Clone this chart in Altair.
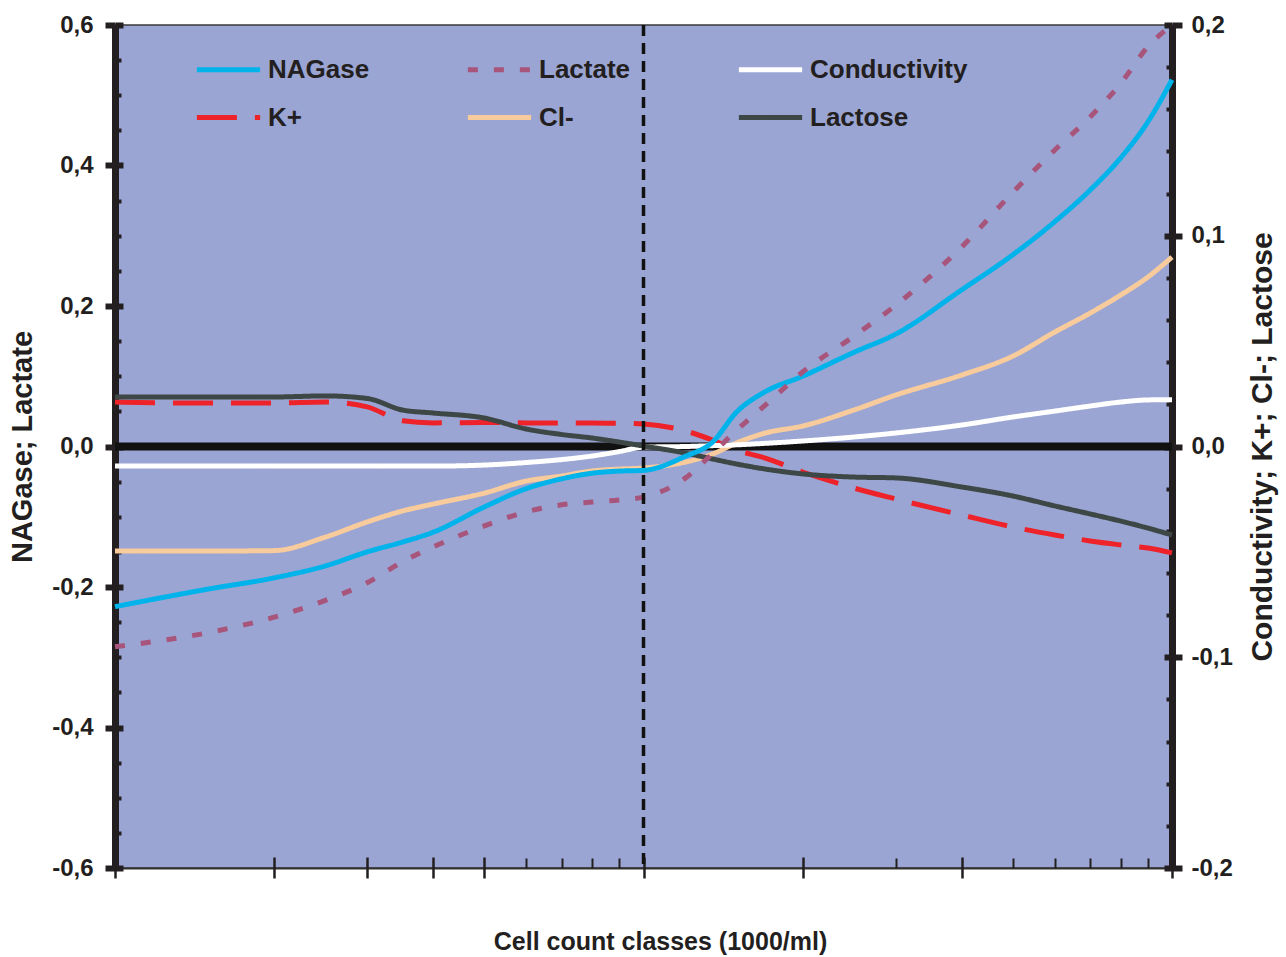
import altair as alt
import pandas as pd

# ---- data ----
cells = [10, 15, 20, 25, 30, 35, 40, 50, 60, 70, 80, 90, 100, 120, 135, 150, 170,
         200, 250, 300, 400, 500, 600, 700, 800, 900, 1000]

nagase = [-0.228, -0.203, -0.187, -0.170, -0.150, -0.136, -0.122, -0.086, -0.060, -0.046,
          -0.038, -0.035, -0.034, -0.014, 0.006, 0.049, 0.078, 0.100, 0.134, 0.160,
          0.223, 0.273, 0.320, 0.365, 0.411, 0.462, 0.522]
lactate = [-0.285, -0.265, -0.243, -0.219, -0.194, -0.164, -0.143, -0.113, -0.093, -0.083,
           -0.079, -0.076, -0.072, -0.045, -0.010, 0.023, 0.059, 0.106, 0.157, 0.201,
           0.284, 0.362, 0.422, 0.469, 0.517, 0.569, 0.600]
conductivity = [-0.0093, -0.0093, -0.0093, -0.0093, -0.0093, -0.0093, -0.0093, -0.0088,
                -0.0076, -0.0062, -0.0045, -0.0024, -0.0003, 0.0000, 0.0004, 0.0008, 0.0015,
                0.0026, 0.0045, 0.0064, 0.0102, 0.0140, 0.0168, 0.0192, 0.0211, 0.0221, 0.0222]
k_plus = [0.0211, 0.0206, 0.0206, 0.0211, 0.0188, 0.0122, 0.0112, 0.0114, 0.0112, 0.0112,
          0.0112, 0.0110, 0.0107, 0.0074, 0.0031, -0.0017, -0.0055, -0.0121, -0.0197,
          -0.0249, -0.0325, -0.0382, -0.0420, -0.0448, -0.0467, -0.0482, -0.0505]
cl_minus = [-0.0496, -0.0496, -0.0494, -0.0430, -0.0358, -0.0306, -0.0273, -0.0221, -0.0164,
            -0.0140, -0.0116, -0.0107, -0.0102, -0.0074, -0.0036, 0.0017, 0.0064, 0.0097,
            0.0173, 0.0244, 0.0339, 0.0429, 0.0543, 0.0633, 0.0719, 0.0804, 0.0899]
lactose = [0.0235, 0.0235, 0.0235, 0.0240, 0.0228, 0.0173, 0.0159, 0.0135, 0.0083, 0.0057,
           0.0040, 0.0021, 0.0002, -0.0031, -0.0059, -0.0083, -0.0107, -0.0130, -0.0145,
           -0.0149, -0.0192, -0.0235, -0.0282, -0.0320, -0.0354, -0.0387, -0.0420]

# legend fills column by column: (NAGase, K+), (Lactate, Cl-), (Conductivity, Lactose)
series_order = ["NAGase", "K+", "Lactate", "Cl-", "Conductivity", "Lactose"]
series_colors = ["#00B3EB", "#EE2229", "#A8557C", "#F7CB9C", "#FFFFFF", "#3D4745"]
series_dashes = [[1, 0], [40, 18], [10, 16], [1, 0], [1, 0], [1, 0]]
series_widths = [5, 5, 6, 5, 5, 5]

left_ticks = [-0.6, -0.4, -0.2, 0.0, 0.2, 0.4, 0.6]
left_minor = [round(-0.55 + 0.05 * i, 2) for i in range(23)]
right_ticks = [-0.2, -0.1, 0.0, 0.1, 0.2]
right_minor = [round(-0.18 + 0.02 * i, 2) for i in range(19)]
x_long_ticks = [10, 20, 30, 40, 50, 100, 200, 400, 1000]
x_short_ticks = [60, 70, 80, 90, 300, 500, 600, 700, 800, 900]

left_series = {"NAGase": nagase, "Lactate": lactate}
right_series = {"K+": k_plus, "Cl-": cl_minus, "Conductivity": conductivity, "Lactose": lactose}


def long_df(d):
    rows = []
    for name, vals in d.items():
        for c, v in zip(cells, vals):
            rows.append({"cells": c, "value": v, "series": name})
    return pd.DataFrame(rows)


left_df = long_df(left_series)
right_df = long_df(right_series)

INK = "#231F20"
FONT = "Liberation Sans"
W, H = 1057, 843

x_scale = alt.Scale(type="log", domain=[10, 1000], nice=False)
yl_scale = alt.Scale(domain=[-0.6, 0.6], nice=False, zero=False)
yr_scale = alt.Scale(domain=[-0.2, 0.2], nice=False, zero=False)
color_scale = alt.Scale(domain=series_order, range=series_colors)
dash_scale = alt.Scale(domain=series_order, range=series_dashes)
width_scale = alt.Scale(domain=series_order, range=series_widths)

label_expr = "(datum.value < 0 ? '-' : '') + replace(format(abs(datum.value), '.1f'), '.', ',')"

common_label = dict(labelFont=FONT, labelFontSize=24, labelFontWeight="bold", labelColor=INK)
common_title = dict(titleFont=FONT, titleFontWeight="bold", titleColor=INK)

ax_left = alt.Axis(orient="left", values=left_ticks, labelExpr=label_expr, labelPadding=12,
                   tickSize=10, tickWidth=6, tickColor=INK, domainColor=INK, domainWidth=7,
                   grid=False, title="NAGase; Lactate", titleFontSize=29, titleAngle=270,
                   titleX=-93, titleY=H / 2, titleAlign="center", titleBaseline="middle",
                   **common_label, **common_title)
ax_left_in = alt.Axis(orient="left", offset=-8, values=left_ticks, tickSize=8, tickWidth=6,
                      tickColor=INK, labels=False, domain=False, grid=False, title=None)
ax_left_minor = alt.Axis(orient="left", offset=-6, values=left_minor, tickSize=6, tickWidth=4,
                         tickColor=INK, labels=False, domain=False, grid=False, title=None)

ax_right = alt.Axis(orient="right", values=right_ticks, labelExpr=label_expr, labelPadding=9,
                    tickSize=10, tickWidth=6, tickColor=INK, domainColor=INK, domainWidth=7,
                    grid=False, title="Conductivity; K+; Cl-; Lactose", titleFontSize=30,
                    titleAngle=270, titleX=90, titleY=H / 2, titleAlign="center",
                    titleBaseline="middle", **common_label, **common_title)
ax_right_in = alt.Axis(orient="right", offset=-8, values=right_ticks, tickSize=8, tickWidth=6,
                       tickColor=INK, labels=False, domain=False, grid=False, title=None)
ax_right_minor = alt.Axis(orient="right", offset=-6, values=right_minor, tickSize=6, tickWidth=4,
                          tickColor=INK, labels=False, domain=False, grid=False, title=None)

ax_x_main = alt.Axis(orient="bottom", ticks=False, labels=False, domainColor="#333333",
                     domainWidth=2, grid=False, title="Cell count classes (1000/ml)",
                     titleFontSize=25, titleX=545, titleY=73, titleAlign="center",
                     titleBaseline="middle", **common_title)
ax_x_long = alt.Axis(orient="bottom", offset=-11, values=x_long_ticks, tickSize=21, tickWidth=2.5,
                     tickColor=INK, labels=False, domain=False, grid=False, title=None)
ax_x_short = alt.Axis(orient="bottom", offset=-10, values=x_short_ticks, tickSize=10, tickWidth=2,
                      tickColor=INK, labels=False, domain=False, grid=False, title=None)

leg = alt.Legend(orient="none", legendX=79, legendY=10, columns=3, title=None,
                 symbolType="stroke", symbolSize=4000, symbolStrokeWidth=7,
                 labelFont=FONT, labelFontSize=26, labelFontWeight="bold", labelColor=INK,
                 labelOffset=5, labelLimit=400, rowPadding=-13, columnPadding=31,
                 gridAlign="all", padding=0)

zero_df = pd.DataFrame({"v": [0.0], "c": [100]})

zero_line = alt.Chart(zero_df).mark_rule(color="#111111", strokeWidth=8).encode(
    y=alt.Y("v:Q", scale=yl_scale, axis=ax_left_in)
)

right_lines = alt.Chart(right_df).mark_line(interpolate="monotone", strokeCap="butt").encode(
    x=alt.X("cells:Q", scale=x_scale, axis=None),
    y=alt.Y("value:Q", scale=yr_scale, axis=ax_right),
    color=alt.Color("series:N", scale=color_scale, legend=leg),
    strokeDash=alt.StrokeDash("series:N", scale=dash_scale, legend=leg),
    strokeWidth=alt.StrokeWidth("series:N", scale=width_scale, legend=None),
)

left_lines = alt.Chart(left_df).mark_line(interpolate="monotone", strokeCap="butt").encode(
    x=alt.X("cells:Q", scale=x_scale, axis=ax_x_main),
    y=alt.Y("value:Q", scale=yl_scale, axis=ax_left),
    color=alt.Color("series:N", scale=color_scale, legend=leg),
    strokeDash=alt.StrokeDash("series:N", scale=dash_scale, legend=leg),
    strokeWidth=alt.StrokeWidth("series:N", scale=width_scale, legend=None),
)

v_line = alt.Chart(zero_df).mark_rule(color="#111111", strokeWidth=3.5, strokeDash=[11, 7]).encode(
    x=alt.X("c:Q", scale=x_scale, axis=ax_x_long)
)

ghost_left = alt.Chart(zero_df).mark_point(opacity=0).encode(
    x=alt.X("c:Q", scale=x_scale, axis=ax_x_short),
    y=alt.Y("v:Q", scale=yl_scale, axis=ax_left_minor),
)
ghost_right_in = alt.Chart(zero_df).mark_point(opacity=0).encode(
    x=alt.X("c:Q", scale=x_scale, axis=None),
    y=alt.Y("v:Q", scale=yr_scale, axis=ax_right_in),
)
ghost_right_minor = alt.Chart(zero_df).mark_point(opacity=0).encode(
    x=alt.X("c:Q", scale=x_scale, axis=None),
    y=alt.Y("v:Q", scale=yr_scale, axis=ax_right_minor),
)

chart = (
    alt.layer(zero_line, right_lines, left_lines, v_line, ghost_left, ghost_right_in, ghost_right_minor)
    .resolve_scale(y="independent")
    .resolve_axis(x="independent", y="independent")
    .properties(
        width=W, height=H,
        autosize=alt.AutoSizeParams(type="none"),
        padding={"left": 115, "top": 25, "right": 114, "bottom": 89},
        background="white",
    )
    .configure_view(fill="#9AA5D3", stroke="#3A3A3A", strokeWidth=1.5)
)

chart.save("out.html", embed_options={"renderer": "svg", "actions": False})
